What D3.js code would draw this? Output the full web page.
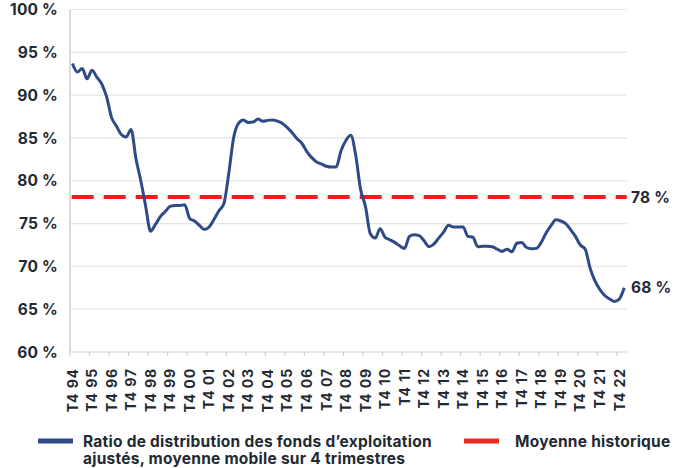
<!DOCTYPE html>
<html>
<head>
<meta charset="utf-8">
<script src="https://cdn.jsdelivr.net/npm/d3@7"></script>
<style>
  body { margin: 0; background: #fff; }
  text { font-family: Inter, "Noto Sans", sans-serif; font-weight: 700; fill: #1f2a33; }
</style>
</head>
<body>
<svg id="chart" width="677" height="468"></svg>
<script>
// ratio de distribution, moyenne mobile 4 trimestres (%), T4 94 -> T1 23
const ratioValues = [
  93.7, 92.7, 93.1, 91.9, 92.9, 92.1, 91.3, 89.8, 87.4, 86.4,
  85.4, 85.1, 86.0, 82.6, 80.0, 77.0, 74.1, 74.9, 75.8, 76.4,
  77.0, 77.1, 77.1, 77.2, 75.6, 75.3, 74.8, 74.3, 74.6, 75.5,
  76.5, 77.3, 80.8, 85.0, 86.7, 87.1, 86.8, 86.85, 87.2, 86.95,
  87.05, 87.1, 86.95, 86.7, 86.2, 85.6, 84.9, 84.35, 83.4, 82.7,
  82.2, 81.95, 81.7, 81.6, 81.6, 83.5, 84.7, 85.3, 83.0, 79.0,
  77.0, 73.8, 73.3, 74.4, 73.4, 73.1, 72.8, 72.4, 72.1, 73.5,
  73.7, 73.6, 73.0, 72.3, 72.6, 73.3, 74.0, 74.8, 74.6, 74.6,
  74.6, 73.5, 73.4, 72.3, 72.35, 72.35, 72.3, 72.0, 71.75, 72.0,
  71.7, 72.7, 72.8, 72.2, 72.05, 72.1, 72.8, 73.9, 74.75, 75.45,
  75.3, 75.0, 74.3, 73.5, 72.5, 72.0, 69.8, 68.3, 67.3, 66.6,
  66.2, 65.9, 66.2, 67.5
];
const historicAverage = 78.1;

const yTicks = [60, 65, 70, 75, 80, 85, 90, 95, 100];
const tickLabels = ["T4 94","T4 95","T4 96","T4 97","T4 98","T4 99","T4 00","T4 01",
  "T4 02","T4 03","T4 04","T4 05","T4 06","T4 07","T4 08","T4 09","T4 10","T4 11",
  "T4 12","T4 13","T4 14","T4 15","T4 16","T4 17","T4 18","T4 19","T4 20","T4 21","T4 22"];

const endLabels = [{ value: 78, y: historicAverage }, { value: 68, y: 67.5 }];
const legendItems = [
  { lines: ["Ratio de distribution des fonds d\u2019exploitation", "ajust\u00e9s, moyenne mobile sur 4 trimestres"], color: "#2e4a87" },
  { lines: ["Moyenne historique"], color: "#ec2b25" }
];

// quarter categories (T4 94, T1 95, ...)
const quarters = ratioValues.map((d, i) => {
  const q = ((i + 3) % 4) + 1;
  const yr = (1994 + Math.floor((i + 3) / 4)) % 100;
  return `T${q} ${String(yr).padStart(2, "0")}`;
});

const svg = d3.select("#chart");
const left = 70, right = 626.7;

const x = d3.scaleBand().domain(quarters).range([left, right]).paddingInner(0).paddingOuter(0);
const y = d3.scaleLinear().domain([60, 100]).range([352, 9.5]);
const cx = q => x(q) + x.bandwidth() / 2;

// horizontal grid
svg.append("g").selectAll("line")
  .data(yTicks.filter(t => t > 60))
  .join("line")
  .attr("x1", left).attr("x2", right)
  .attr("y1", d => y(d)).attr("y2", d => y(d))
  .attr("stroke", "#e4e4e4").attr("stroke-width", 1.2);

// y axis line + labels
svg.append("line")
  .attr("x1", left).attr("x2", left).attr("y1", y(100)).attr("y2", y(60))
  .attr("stroke", "#cfcfcf").attr("stroke-width", 1.5);

svg.append("g").selectAll("text")
  .data(yTicks)
  .join("text")
  .attr("x", 58).attr("y", d => y(d))
  .attr("dy", "0.36em")
  .attr("text-anchor", "end")
  .style("font-size", "15.5px")
  .style("letter-spacing", "0.2px")
  .text(d => `${d} %`);

// x axis
svg.append("line")
  .attr("x1", left).attr("x2", right).attr("y1", y(60)).attr("y2", y(60))
  .attr("stroke", "#cfcfcf").attr("stroke-width", 1.2);

const tickQuarters = quarters.filter((q, i) => i % 4 === 0);
svg.append("g").selectAll("line")
  .data(tickQuarters)
  .join("line")
  .attr("x1", d => x(d)).attr("x2", d => x(d))
  .attr("y1", y(60)).attr("y2", y(60) + 4)
  .attr("stroke", "#cfcfcf").attr("stroke-width", 1.2);

svg.append("g").selectAll("text")
  .data(tickLabels)
  .join("text")
  .attr("transform", (d, i) => `translate(${cx(tickQuarters[i])},368) rotate(-90)`)
  .attr("dy", "0.37em")
  .attr("text-anchor", "end")
  .style("font-size", "14px")
  .style("letter-spacing", "0.9px")
  .text(d => d);

// historic average
svg.append("line")
  .attr("x1", left + 1.7).attr("x2", right)
  .attr("y1", y(historicAverage)).attr("y2", y(historicAverage))
  .attr("stroke", "#f51b1b").attr("stroke-width", 4)
  .attr("stroke-dasharray", "22,10");

// ratio line
const line = d3.line()
  .x((d, i) => cx(quarters[i]))
  .y(d => y(d))
  .curve(d3.curveMonotoneX);

svg.append("path")
  .datum(ratioValues)
  .attr("d", line)
  .attr("fill", "none")
  .attr("stroke", "#2e4a87")
  .attr("stroke-width", 3)
  .attr("stroke-linejoin", "round");

// end labels
svg.append("g").selectAll("text")
  .data(endLabels)
  .join("text")
  .attr("x", 631).attr("y", d => y(d.y))
  .attr("dy", "0.36em")
  .style("font-size", "15.5px")
  .style("letter-spacing", "0.2px")
  .text(d => `${d.value} %`);

// legend
const legendX = [38, 464];
const lg = svg.append("g").selectAll("g")
  .data(legendItems)
  .join("g")
  .attr("transform", (d, i) => `translate(${legendX[i]},0)`);

lg.append("rect")
  .attr("x", 0).attr("y", 438.5)
  .attr("width", 35).attr("height", 5)
  .attr("fill", d => d.color);

lg.append("text")
  .attr("x", (d, i) => i === 0 ? 45 : 51)
  .style("font-size", "15.5px")
  .style("letter-spacing", "0.25px")
  .selectAll("tspan")
  .data(d => d.lines)
  .join("tspan")
  .attr("x", function() { return d3.select(this.parentNode).attr("x"); })
  .attr("y", (d, i) => 446.5 + i * 17.5)
  .text(d => d);
</script>
</body>
</html>
